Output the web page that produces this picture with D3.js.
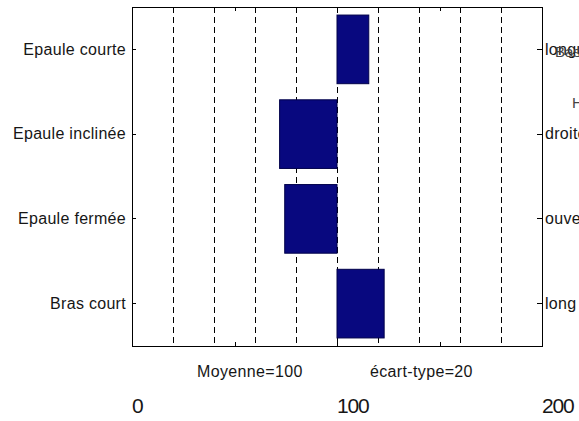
<!DOCTYPE html>
<html><head><meta charset="utf-8">
<script src="https://cdn.jsdelivr.net/npm/d3@7"></script>
<style>html,body{margin:0;padding:0;background:#fff;overflow:hidden}</style>
</head><body>
<script>
const categories = ["Epaule courte", "Epaule inclinée", "Epaule fermée", "Bras court"];
const oppositeLabels = ["longue", "droite", "ouverte", "long"];
const values = [115.5, 72, 74.5, 123];
const meanValue = 100;
const sdValue = 20;
const gridValues = [20, 40, 60, 80, 100, 120, 140, 160, 180];
const tickValues = [0, 50, 100, 150, 200];
const bottomLabels = [0, 100, 200];
const legendTexts = ["Moyenne=" + meanValue, "écart-type=" + sdValue];

const W = 579, H = 421;
const mLeft = 132, mRight = 542, mTop = 7, mBottom = 346;
const font = "'Liberation Sans', Arial, sans-serif";
const textColor = "#161616";

const svg = d3.select("body").append("svg").attr("width", W).attr("height", H)
  .style("font-family", font);

const x = d3.scaleLinear().domain([0, 200]).range([mLeft, mRight]);
const y = d3.scaleBand().domain(categories).range([mTop, mBottom])
  .paddingInner(0.19).paddingOuter(0.095);
const px = v => Math.round(x(v)) + 0.5;

// dashed grid lines
svg.append("g").selectAll("line").data(gridValues).join("line")
  .attr("x1", d => px(d)).attr("x2", d => px(d))
  .attr("y1", mTop).attr("y2", mBottom)
  .attr("stroke", "#000").attr("stroke-width", 1)
  .attr("stroke-dasharray", "6,4");

// bars from the mean
svg.append("g").selectAll("rect").data(categories).join("rect")
  .attr("x", (d, i) => Math.min(x(meanValue), x(values[i])))
  .attr("width", (d, i) => Math.abs(x(values[i]) - x(meanValue)))
  .attr("y", d => y(d))
  .attr("height", y.bandwidth())
  .attr("fill", "#08087f")
  .attr("stroke", "#00004a").attr("stroke-width", 1);

// axes
const ax = (g) => g.call(s => s.select(".domain").remove())
  .call(s => s.selectAll("line").attr("stroke", "#000").attr("shape-rendering", "crispEdges"));

svg.append("g").attr("transform", `translate(0,${mBottom})`)
  .call(d3.axisBottom(x).tickValues(tickValues).tickSize(-4).tickFormat(""))
  .call(ax);
svg.append("g").attr("transform", `translate(0,${mTop})`)
  .call(d3.axisTop(x).tickValues(tickValues).tickSize(-4).tickFormat(""))
  .call(ax);

const leftAxis = svg.append("g").attr("transform", `translate(${mLeft},0)`)
  .call(d3.axisLeft(y).tickSize(-4).tickPadding(6))
  .call(ax);
leftAxis.selectAll("text")
  .style("font-family", font).style("font-size", "16px")
  .style("letter-spacing", "0.3px").attr("fill", textColor);

const rightAxis = svg.append("g").attr("transform", `translate(${mRight},0)`)
  .call(d3.axisRight(y).tickSize(-5).tickPadding(3)
    .tickFormat((d, i) => oppositeLabels[i]))
  .call(ax);
rightAxis.selectAll("text")
  .style("font-family", font).style("font-size", "16px")
  .style("letter-spacing", "0.3px").attr("fill", textColor);

// frame
svg.append("rect").attr("x", mLeft + 0.5).attr("y", mTop + 0.5)
  .attr("width", mRight - mLeft).attr("height", mBottom - mTop)
  .attr("fill", "none").attr("stroke", "#000").attr("stroke-width", 1);

// stray overlapping labels at right edge
svg.append("text").attr("x", 555).attr("y", 57).text("Bas")
  .style("font-size", "15px").attr("fill", "#444");
svg.append("text").attr("x", 572).attr("y", 108).text("H")
  .style("font-size", "15px").attr("fill", "#444");

// legend texts
svg.append("text").attr("x", 197).attr("y", 377).text(legendTexts[0])
  .style("font-size", "16px").style("letter-spacing", "0.35px").attr("fill", textColor);
svg.append("text").attr("x", 370).attr("y", 377).text(legendTexts[1])
  .style("font-size", "16px").style("letter-spacing", "0.35px").attr("fill", textColor);

// bottom scale labels
svg.append("g").selectAll("text").data(bottomLabels).join("text")
  .attr("x", d => x(d)).attr("y", 413)
  .text(d => d)
  .style("font-size", "21px").style("letter-spacing", "-1.2px")
  .attr("fill", textColor);
</script>
</body></html>
